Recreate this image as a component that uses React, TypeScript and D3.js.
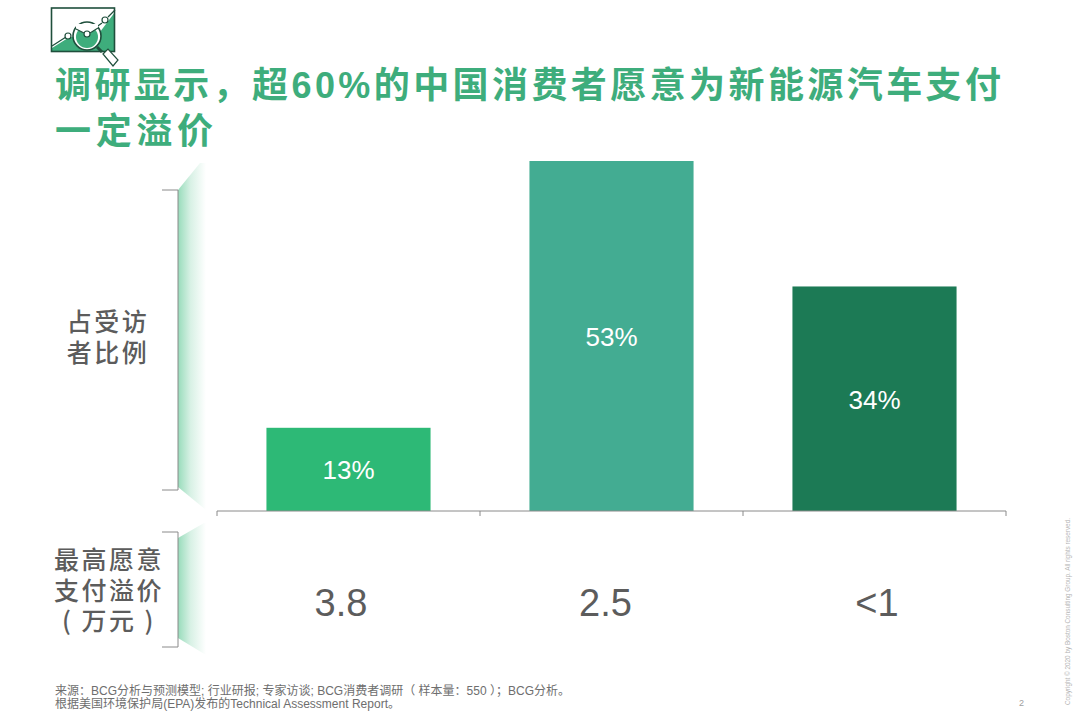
import React from "react";
import * as d3 from "d3";

const categories = ["高", "中", "低"];
const shareLabels = ["13%", "53%", "34%"];
// bar heights, the 13% bar is drawn a bit short in the original
const barValues = [12.6, 53, 34];
const premiums = ["3.8", "2.5", "<1"];
const barColors = ["#2DB976", "#43AC92", "#1C7A55"];
const titleLines = ["调研显示，超60%的中国消费者愿意为新能源汽车支付", "一定溢价"];
const shareLabel = ["占受访", "者比例"];
const premiumLabel = ["最高愿意", "支付溢价", "( 万元 )"];
const sourceLines = [
    "来源：BCG分析与预测模型; 行业研报; 专家访谈; BCG消费者调研（ 样本量：550 ）；BCG分析。",
    "根据美国环境保护局(EPA)发布的Technical Assessment Report。",
];
const copyright = "Copyright © 2020 by Boston Consulting Group. All rights reserved.";

const width = 1080;
const height = 711;
const latin = "'Liberation Sans', 'Noto Sans CJK SC', sans-serif";
const cjk = "'Noto Sans CJK SC', 'Liberation Sans', sans-serif";

const x = d3.scaleBand<string>()
    .domain(categories)
    .range([217, 1006])
    .paddingInner(0.376)
    .paddingOuter(0.188);

const y = d3.scaleLinear().domain([0, 53]).range([511, 161]);

const tickEdges = d3.range(categories.length + 1).map((i) => 217 + i * x.step());

// the premium figures are not centred on the bars in the original
const premiumOffsets = [-7.5, -6, 2.5];

const App: React.FC = () => {
    return (
        <svg
            width={width}
            height={height}
            viewBox={`0 0 ${width} ${height}`}
            style={{ position: "absolute", left: 0, top: 0, background: "#fff" }}
        >
            <defs>
                <linearGradient id="fade" x1="0" x2="1" y1="0" y2="0">
                    <stop offset="0" stopColor="#98DCBB" />
                    <stop offset="0.45" stopColor="#D8F1E5" />
                    <stop offset="1" stopColor="#FFFFFF" />
                </linearGradient>
            </defs>

            {/* header icon */}
            <g fill="none" stroke="#1F4F3C">
                <path d="M52 48 L68 38 L76 36 L100 32 L115 12 L115 51 L52 51 Z" fill="#3EAD7C" stroke="none" />
                <rect x={51.5} y={8} width={63} height={43.5} strokeWidth={1.6} />
                <path d="M52 46 L66 37 M92 30 L102 23 M108 17 L115 10" strokeWidth={1.3} />
                <circle cx={68} cy={36} r={3} fill="#fff" strokeWidth={1.2} />
                <circle cx={105} cy={20} r={3} fill="#fff" strokeWidth={1.2} />
                <circle cx={87} cy={36} r={14} fill="#fff" strokeWidth={1.6} />
                <circle cx={87} cy={37} r={11} fill="#3EAD7C" stroke="none" />
                <path d="M76 29 L82 32 L87 36 L92 32 L98 28 L98 24 L76 24 Z" fill="#fff" stroke="none" />
                <path d="M76 29 L84 33 M90 33 L98 28" strokeWidth={1.2} />
                <circle cx={87} cy={34} r={3} fill="#fff" strokeWidth={1.2} />
                <path d="M97 47 L102 52" strokeWidth={3} />
                <path d="M103 54 L108 49 L118 60 L113 66 Z" fill="#fff" strokeWidth={1.2} />
            </g>

            {/* title */}
            <g fontFamily={latin} fontWeight={700} fontSize={36} fill="#3EAD7C">
                {titleLines.map((line, i) => (
                    <text key={i} x={55} y={98 + i * 46} textLength={i === 0 ? 946 : 158}>
                        {line}
                    </text>
                ))}
            </g>

            {/* side brackets */}
            <polygon points="178,190 200,163 206,163 206,510 178,487" fill="url(#fade)" />
            <polygon points="178,538 204,523 206,523 206,655 178,638" fill="url(#fade)" />
            <path d="M162 190 H178 V490 H162" fill="none" stroke="#8A8A8A" strokeWidth={1} />
            <path d="M162 532 H178 V647 H162" fill="none" stroke="#8A8A8A" strokeWidth={1} />

            {/* row labels */}
            <g fontFamily={cjk} fontWeight={500} fontSize={25} fill="#5C5C5C" textAnchor="middle" letterSpacing={2.5}>
                {shareLabel.map((line, i) => (
                    <text key={i} x={108} y={331 + i * 31}>{line}</text>
                ))}
                {premiumLabel.map((line, i) => (
                    <text key={i} x={109} y={569 + i * 30.5} xmlSpace="preserve">{line}</text>
                ))}
            </g>

            {/* bars */}
            {categories.map((c, i) => (
                <g key={c}>
                    <rect
                        x={x(c)}
                        y={y(barValues[i])}
                        width={x.bandwidth()}
                        height={y(0) - y(barValues[i])}
                        fill={barColors[i]}
                    />
                    <text
                        x={x(c)! + x.bandwidth() / 2}
                        y={(y(barValues[i]) + y(0)) / 2 + 10}
                        textAnchor="middle"
                        fontFamily={latin}
                        fontSize={26}
                        fill="#fff"
                    >
                        {shareLabels[i]}
                    </text>
                    <text
                        x={x(c)! + x.bandwidth() / 2 + premiumOffsets[i]}
                        y={616}
                        textAnchor="middle"
                        fontFamily={latin}
                        fontSize={38}
                        fill="#5C5C5C"
                    >
                        {premiums[i]}
                    </text>
                </g>
            ))}

            {/* baseline */}
            <path d={`M217 ${y(0)} H1006`} stroke="#8A8A8A" strokeWidth={1} />
            {tickEdges.map((t) => (
                <line key={t} x1={t} x2={t} y1={y(0)} y2={y(0) + 5} stroke="#8A8A8A" strokeWidth={1} />
            ))}

            {/* footer */}
            <g fontFamily={latin} fontSize={12} fill="#6E6E6E">
                {sourceLines.map((line, i) => (
                    <text key={i} x={55} y={694.5 + i * 13.5} textLength={i === 0 ? 515 : 345}>{line}</text>
                ))}
            </g>
            <text x={1019} y={706} fontFamily={latin} fontSize={9} fill="#A0A0A0">2</text>
            <text
                transform="translate(1070,705) rotate(-90)"
                fontFamily={latin}
                fontSize={6.4}
                fill="#B5B5B5"
                textLength={187}
            >
                {copyright}
            </text>
        </svg>
    );
};

export default App;
